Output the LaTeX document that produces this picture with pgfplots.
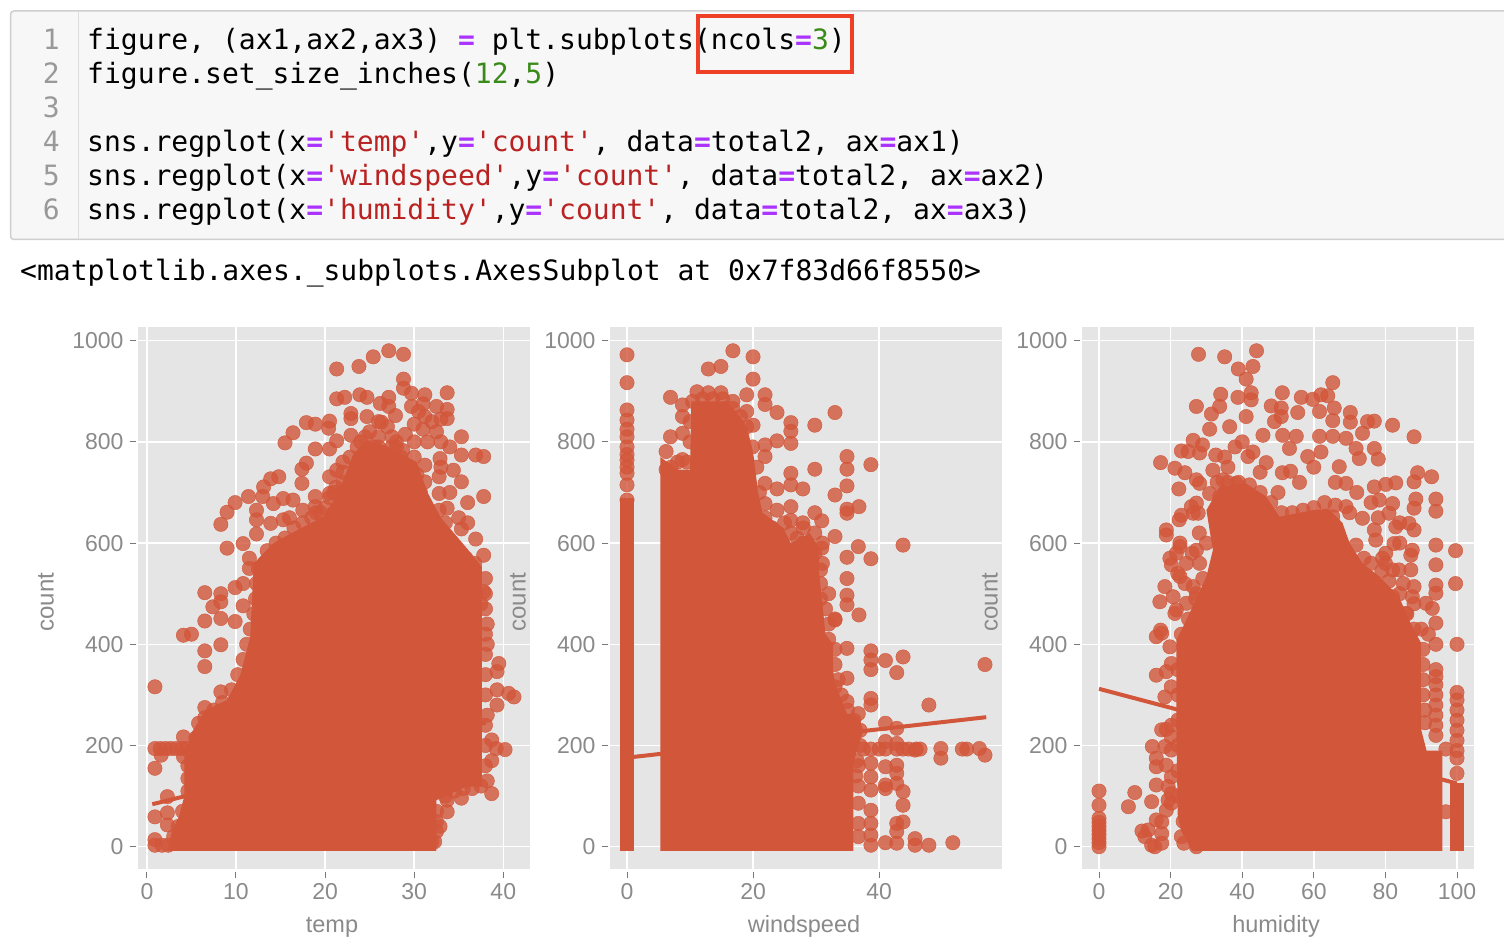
\documentclass[border=0pt]{standalone}
\usepackage{fontspec}
\usepackage{pgfplots}
\pgfplotsset{compat=1.18}
\setmainfont{Liberation Sans}
\newfontfamily\codefont{DejaVu Sans Mono}

\definecolor{regred}{HTML}{D2563A}
\definecolor{ggbg}{HTML}{E5E5E5}
\definecolor{ggtext}{HTML}{8A8A8A}
\definecolor{ggtick}{HTML}{777777}
\definecolor{kw}{HTML}{AA33FF}
\definecolor{pystring}{HTML}{BA2121}
\definecolor{pynumber}{HTML}{3A8A1A}
\definecolor{cellbg}{HTML}{F7F7F7}
\definecolor{cellline}{HTML}{CFCFCF}
\definecolor{lineno}{HTML}{999999}
\definecolor{redbox}{HTML}{EE3F27}

\newcommand{\pyeq}{\textcolor{kw}{\bfseries=}}
\newcommand{\pystr}[1]{\textcolor{pystring}{#1}}
\newcommand{\pynum}[1]{\textcolor{pynumber}{#1}}
\newcommand{\codeline}[3]{%
  \node[anchor=base east,inner sep=0pt,text=lineno] at (60pt,#1pt) {\codefont\fontsize{28}{34}\selectfont #2};
  \node[anchor=base west,inner sep=0pt] at (87pt,#1pt) {\codefont\fontsize{28}{34}\selectfont #3};}

\pgfplotsset{
  panel/.style={
    scale only axis, width=392pt, height=541.5pt,
    ymin=-44, ymax=1026, ytick={0,200,400,600,800,1000},
    axis background/.style={fill=ggbg},
    grid=major, grid style={white,line width=1.5pt},
    axis line style={draw=none},
    tick align=outside, tick pos=left, major tick length=6pt,
    tick style={draw=ggtick,line width=1pt},
    x tick style={yshift=-3pt}, y tick style={xshift=-2pt},
    /pgf/number format/assume math mode=true,
    /pgf/number format/1000 sep={},
    tick label style={font=\fontsize{23}{23}\selectfont,text=ggtext},
    x tick label style={yshift=-5pt}, y tick label style={xshift=-5pt},
    every axis x label/.style={at={(rel axis cs:0.5,0)},anchor=base,xshift=-2pt,yshift=-63pt,
      font=\fontsize{23.5}{24}\selectfont,text=ggtext},
    every axis y label/.style={at={(rel axis cs:0,0.5)},anchor=center,xshift=-92pt,yshift=-4pt,rotate=90,
      font=\fontsize{24}{24}\selectfont,text=ggtext},
    ylabel=count,
  },
  dots/.style={only marks,mark=*,mark size=7.2pt,color=regred,
    mark options={draw=none,fill=regred,fill opacity=0.8}},
  body/.style={fill=regred,draw=none,no markers},
  fit/.style={color=regred,line width=4pt,no markers},
}

\begin{document}
\begin{tikzpicture}[x=1pt,y=1pt]
\useasboundingbox (0pt,0pt) rectangle (1504pt,948pt);

% notebook cell
\fill[cellbg] (10.5,708.5) rectangle (1504,937);
\draw[cellline,line width=1.5pt] (1504,937)--(14,937) arc[start angle=90,end angle=180,radius=3.5]
  --(10.5,712) arc[start angle=180,end angle=270,radius=3.5]--(1504,708.5);
\draw[cellline!70,line width=1pt] (78,937)--(78,708.5);
\codeline{898}{1}{figure, (ax1,ax2,ax3) \pyeq{} plt.subplots(ncols\pyeq\pynum{3})}
\codeline{864}{2}{figure.set\_size\_inches(\pynum{12},\pynum{5})}
\codeline{830}{3}{}
\codeline{796}{4}{sns.regplot(x\pyeq\pystr{'temp'},y\pyeq\pystr{'count'}, data\pyeq{}total2, ax\pyeq{}ax1)}
\codeline{762}{5}{sns.regplot(x\pyeq\pystr{'windspeed'},y\pyeq\pystr{'count'}, data\pyeq{}total2, ax\pyeq{}ax2)}
\codeline{728}{6}{sns.regplot(x\pyeq\pystr{'humidity'},y\pyeq\pystr{'count'}, data\pyeq{}total2, ax\pyeq{}ax3)}
\draw[redbox,line width=4pt] (698,876)rectangle(852,932);
\node[anchor=base west,inner sep=0pt] at (20pt,667pt) {\codefont\fontsize{28}{34}\selectfont <matplotlib.axes.\_subplots.AxesSubplot at 0x7f83d66f8550>};

% temp
\begin{axis}[panel,at={(138pt,79pt)},anchor=south west,xmin=-1,xmax=43,xtick={0,10,20,30,40},xlabel=temp]
\addplot[body] coordinates {(2.3,-8)(2.8,30)(3.6,60)(4.2,100)(4.2,178)(5,225)(6.6,270)(9,290)(10.5,340)(11.6,415)(12,560)(14.2,600)(16.8,625)(19.8,652)(21.5,700)(23.2,777)(24.7,804)(27,790)(30.3,760)(31.5,700)(33,650)(35.9,590)(37.6,553)(37.6,119)(35.9,119)(32.5,92)(32.5,-8)};
\addplot[dots] coordinates {
(27.15,980)(28.8,973)(25.4,968)(23.8,949)(21.3,944)(28.8,924)(28.8,906)(21.3,885)(22.2,888)(23.9,893)(24.7,888)(26.2,876)(27.15,888)(31.2,893)(33.7,897)(29.7,896)(33.7,864)(33.7,846)(22.9,856)(22.9,846)(24.7,850)(27.9,852)(27.15,870)
(17.9,838)(18.9,835)(20.5,841)(20.4,827)(16.4,818)(15.5,798)(18.9,786)(20.5,786)(21.3,802)(22.9,813)(26.3,839)(28.7,783)(35.3,810)(35.3,774)(36.9,774)(37.8,771)(37.8,692)(35.3,721)(34.4,744)(32.9,767)(31.2,754)(31.2,721)(32.8,731)(32.8,698)(33.7,669)(32.8,665)(35.3,628)(36.9,608)(37.8,576)(37.8,504)
(17.9,758)(17.4,746)(17.4,718)(14.8,731)(13.9,727)(13.1,711)(13,692)(11.4,692)(9.9,680)(9,661)(8.3,637)(9,590)(10.8,599)(11.5,570)(11.5,550)(10.8,520)(9.9,512)(8.3,500)(6.5,502)(7.4,474)(8.3,484)(10.8,476)(6.5,446)(8.3,451)(9.9,445)
(12.3,665)(12.3,646)(12.3,618)(14.2,678)(15.3,688)(16.4,685)(18.9,672)(18.9,692)(20.5,698)(20.5,731)(21.3,744)(15.3,646)(13.9,639)
(29.7,870)(30.5,860)(31.2,850)(32,840)(30,835)(31,825)(32.5,820)(33,845)(31,875)(32.5,870)(29,815)(33,800)(31.5,800)(34,790)(30,800)(28,800)(26,790)(24.5,770)(16,650)(17.5,665)(19,660)(22,720)(22,760)
(4.1,418)(5,420)(6.5,387)(6.5,356)(0.9,316)(8.3,399)(8.3,306)(6.5,275)(4.1,217)(5.8,244)(1.6,181)(4.1,178)(0.9,155)(2.3,99)(0.9,59)(2.3,67)(2.3,43)(0.9,14)(0.9,3)(1.7,3)(2.4,3)
(0.9,194)(1.5,194)(2.1,194)(2.7,194)(3.3,194)(3.9,194)(4.5,194)
(38.7,105)(35.3,96)(33.7,92)(33.7,69)(32.9,40)(32,10)(41.2,296)(40.6,303)(39.3,310)(39.3,346)(39.5,362)(39.3,280)(40.2,192)(39.2,194)(38.7,211)(38.7,170)(38.2,130)(38.2,260)(38.2,400)(38.2,440)
(36.9,500)(37.5,480)(36.5,540)
(3,20)(3.5,40)(4,70)(4.6,110)(4.6,135)(4.6,160)(5,190)(5.5,215)(6.5,255)(7.5,270)(8.5,285)(9.5,310)(10.2,340)(10.8,370)(11.2,400)(11.6,430)(12,460)(12.2,490)(12.3,520)(12.5,550)(13.5,585)(14.5,600)(15.5,610)(16.5,630)(17.5,640)(18.5,650)(19.5,660)(20.5,690)(21.2,710)(22,740)(22.8,770)(23.6,790)(24.5,810)(25.5,790)(26.5,780)(27.5,790)(28.5,770)(29.5,750)(30.3,735)(30.7,700)(31,665)(31.8,640)(32.8,615)(33.8,600)(34.8,580)(35.8,570)(36.8,560)
(38,530)(38,500)(38,470)(38,420)(38,380)(38,340)(38,300)(38,240)(38,200)(38,160)(37.5,120)(36.5,115)(35.5,115)(34.5,110)(33.5,100)(32.5,70)(32.5,50)(32.5,30)(32.3,10)
(24,800)(25,820)(26,810)(26,840)(27,830)(27.5,810)(28,790)(21,660)(22,680)(21,700)(22,700)(20,670)(29,720)(30,770)(33,750)(34,700)(36,680)(35,650)(36,640)(33.5,640)
};
\addplot[fit] coordinates {(0.6,84)(38,245)};
\end{axis}

% windspeed
\begin{axis}[panel,at={(610pt,79pt)},anchor=south west,xmin=-2.7,xmax=59.5,xtick={0,20,40},xlabel=windspeed]
\addplot[body] coordinates {(-1.1,-8)(-1.1,690)(1.1,690)(1.1,-8)};
\addplot[body] coordinates {(5.3,-8)(5.3,770)(8,745)(10,745)(10.2,880)(15.8,880)(18,850)(19,830)(20,780)(20.8,700)(21.5,660)(24.8,630)(26,600)(29,620)(30.5,590)(30.5,540)(31,480)(31.5,420)(32.7,400)(32.7,350)(33,323)(34.9,263)(36.7,257)(37.5,230)(35.9,165)(35.9,-8)};
\addplot[dots] coordinates {
(0,972)(0,917)(0,863)(0,843)(0,825)(0,810)(0,790)(0,775)(0,764)(0,750)(0,738)(0,715)(0,685)
(16.8,980)(20,968)(14.9,949)(12.9,944)(20,924)(21.9,893)(21.9,874)(19,893)(23.8,858)(26,838)(26,821)(26,797)(23.8,802)(29.8,833)(33,858)(34.9,771)(34.9,746)(38.7,755)(29.8,746)(26,738)(26,715)(27.9,707)(23.8,707)(21.9,718)(34.9,713)(33,695)(36.8,672)(34.9,667)(34.9,659)(29.8,660)(30.9,644)(33,613)(36.7,593)(34.9,572)(38.7,569)(43.8,596)(30.7,547)(30.7,520)(34.9,530)(34.9,497)(34.9,478)(36.8,458)(33,448)(26,672)(23.8,665)(21.9,678)
(6.9,888)(8.8,873)(8.8,850)(11.1,899)(12.9,897)(14.9,897)(16.8,866)(19,860)(6.9,810)(8.8,817)(6.2,781)(20,833)(21.9,794)(21.9,771)(19,764)(8.8,765)(6.2,745)
(27.9,640)(26,620)(29.8,620)(27.9,600)(29.8,580)(28,560)(31,600)(26,580)(33,450)(32,500)(30.7,490)
(10.4,880)(12,885)(13.6,885)(15.2,885)(16.8,880)(18,850)(19,830)(19.9,790)(20.6,750)(21,700)(21.9,650)(23,630)(24,610)(25,640)(26,645)(27,610)(28,630)(30.9,590)(31,560)(31.5,470)(32,440)(32,410)(33,390)(33,360)(33.5,330)(34,300)(35,270)(36,250)(37,230)(37,200)(36.5,170)(36.3,140)(8,760)(7,750)(9.5,760)(10,800)(10,840)
(38.7,387)(38.7,369)(38.7,350)(41,368)(43.8,375)(42.8,344)(56.8,360)(47.9,280)(34.9,392)(34.9,333)(33,316)(38.7,293)(38.7,280)(34.9,287)(36.7,263)(41,244)(42.8,234)
(37.5,193)(38.7,193)(40,193)(41,193)(42.8,193)(43.8,193)(44.7,193)(45.9,193)(46.5,193)(49.8,194)(49.8,175)(53.9,193)(53.2,193)(55.9,194)(56.8,181)(45.7,191)(41,208)(42.8,204)(41,158)(42.8,161)(42.8,145)(42.8,125)(41,122)(41,115)
(38.7,165)(38.7,138)(38.7,112)(43.8,109)(43.8,82)(43.8,49)(42.8,46)(42.8,30)(42.8,7)(41,8)(38.7,3)(38.7,23)(38.7,46)(38.7,72)(45.7,16)(45.7,3)(47.9,3)(51.7,8)(36.7,86)(36.7,20)(36.7,46)(36.7,120)(36.7,160)
};
\addplot[fit] coordinates {(0,176)(57,256)};
\end{axis}

% humidity
\begin{axis}[panel,at={(1082pt,79pt)},anchor=south west,xmin=-4.75,xmax=104.75,xtick={0,20,40,60,80,100},xlabel=humidity]
\addplot[body] coordinates {(26,-8)(23,30)(22,60)(21.6,230)(21.6,408)(24.4,448)(30,534)(31.8,586)(30,665)(33.7,711)(41,718)(46.7,692)(50.4,652)(59.7,665)(64,668)(68,640)(70,600)(73.6,560)(78.3,534)(83.8,494)(86.6,448)(90,402)(90,231)(91.5,190)(95.9,190)(95.9,-8)};
\addplot[body] coordinates {(98.1,-8)(101.9,-8)(101.9,125)(98.1,125)};
\addplot[dots] coordinates {
(44,980)(27.8,973)(35.1,968)(43,949)(38.9,944)(41.1,924)(65.3,917)(34,894)(42.5,897)(51.2,897)(27.2,870)(38.8,888)(42.5,883)(56.5,888)(59.7,884)(62,893)(63.9,891)(48.1,871)(50.9,867)(65.7,867)(70.2,858)(31.4,855)(33.7,870)(55.5,858)(61.6,860)(49,840)(50.9,850)(65.3,842)(70.2,839)(75,840)(76.9,841)(82,833)(88,810)
(30.9,825)(36.5,830)(41.1,850)(45.8,813)(51.3,813)(55.1,811)(61.6,811)(65.3,811)(69,807)(73.6,817)(26.3,803)(23,782)(24.9,781)(28.9,794)(28.1,778)(32.6,774)(17.2,759)(21.2,748)(24,739)(22.3,707)(27.2,725)(35.1,770)(46.7,759)(41.6,771)(58.3,771)(53.2,787)(76.9,787)(78,766)(71.8,787)(72.7,767)(67.1,751)
(89,739)(92.9,731)(82.9,719)(80.1,716)(88,721)(76.9,711)(69,718)(51.2,739)(53.5,742)(94.1,687)(94.1,663)(88.5,687)(88,669)(82,678)(73.6,649)(76.9,626)(88,626)(99.6,585)(94.1,596)(94.1,557)(99.6,520)(94.1,517)(94.1,501)(93.1,471)(94.1,442)(71.8,596)(87.1,576)(87.1,547)(88,514)(82.4,599)(82,547)(79.2,570)
(18.8,626)(18.8,616)(22.4,646)(23,655)(25.8,672)(27.7,659)(19.8,570)(22.6,593)(20.2,557)(18.4,514)(17,484)(21.2,461)(17.2,428)
(38,790)(40,800)(43,780)(36,750)(45,740)(60,750)(62,780)(56,720)(50,700)(66,720)(72,700)(76,680)(70,660)(78,650)(84,640)(84,600)(80,560)(85,520)(88,480)(90,430)(92,420)(24,520)(22,540)(26,580)(28,620)
(22.6,600)(27.2,586)(30,600)(21.6,580)(24.4,560)(28.1,560)(22.6,534)(26.3,514)(20.7,494)(24.4,481)(27.2,500)(21.6,468)
(28.1,718)(31.8,744)(34.6,725)(38.3,718)(30.9,698)(27.2,679)(26.3,659)(33.7,692)(37.4,685)
(69,672)(65.3,652)(78.3,685)(81,659)(82.9,632)(86.6,639)(77.3,606)(80.1,580)(83.8,547)(87.5,586)(82,494)(87.5,494)(91.3,481)(85.7,461)
(90.5,390)(90.5,360)(90.5,330)(90.5,300)(91,270)(91,245)
(23,20)(23.5,50)(22,100)(22,150)(22,200)(22,250)(22,300)(22,350)(23,420)(25,450)(27,490)(29,530)
(33,720)(36,720)(39,720)(42,715)(45,700)(48,680)(51,660)(54,660)(57,665)(60,670)(63,680)(66,675)(74,570)(76,560)(79,545)(81,525)(84,500)(86,460)(88,430)
(94.1,400)(94.1,350)(94.1,336)(94.1,320)(94.1,300)(94.1,280)(94.1,260)(94.1,240)(94.1,220)
(100,305)(100,290)(100,270)(100,250)(100,230)(100,210)(100,190)(100,175)(100,145)(100,400)
(0,110)(0,82)(0,56)(0,48)(0,40)(0,32)(0,24)(0,16)(0,8)(0,0)
(10,107)(8.2,79)(12,31)(13.7,33)(12.8,20)(14.7,3)(15.6,0)(17.5,7)(16,53)(17.5,49)(17.5,26)(14.7,89)(16,122)(16,158)(16,175)(14.9,198)(18.4,198)(17.5,231)(18.8,232)(20.2,240)(18.4,296)(16,339)(18.8,346)(19.8,395)(16,415)(17.5,422)(18.8,161)(19.3,119)(19.3,92)(18.8,72)(23.7,7)(27.2,0)
(20.2,105)(20.2,86)(20.2,138)(20.2,191)(20.2,217)(20.2,316)(20.2,362)(96.9,193)(96.9,69)
};
\addplot[fit] coordinates {(0,312)(100,125)};
\end{axis}
\end{tikzpicture}
\end{document}
